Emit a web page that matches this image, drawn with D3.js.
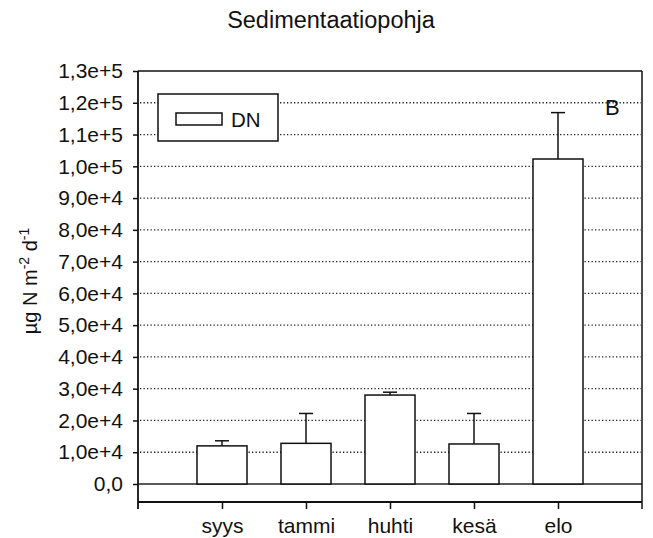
<!DOCTYPE html>
<html>
<head>
<meta charset="utf-8">
<script src="https://cdn.jsdelivr.net/npm/d3@7"></script>
<style>
  html, body { margin: 0; padding: 0; background: #fff; }
  svg { display: block; }
  text { font-family: "Liberation Sans", Arial, sans-serif; fill: #111; }
</style>
</head>
<body>
<svg id="chart" width="653" height="538"></svg>
<script>
// ---- data ----
const categories = ["syys", "tammi", "huhti", "kesä", "elo"];
const values = [12000, 12800, 28000, 12600, 102300];
const errors = [1600, 9400, 900, 9600, 14600];
const yTicks = [0, 10000, 20000, 30000, 40000, 50000, 60000, 70000, 80000, 90000, 100000, 110000, 120000, 130000];
const yTickLabels = ["0,0", "1,0e+4", "2,0e+4", "3,0e+4", "4,0e+4", "5,0e+4", "6,0e+4", "7,0e+4", "8,0e+4", "9,0e+4", "1,0e+5", "1,1e+5", "1,2e+5", "1,3e+5"];
const gridValues = [10000, 20000, 30000, 40000, 50000, 60000, 70000, 80000, 90000, 100000, 110000, 120000];
const seriesName = "DN";
const chartTitle = "Sedimentaatiopohja";
const panelLetter = "B";

// ---- layout ----
const pLeft = 138, pRight = 642, pTop = 71, zeroY = 484, boxBottom = 502, axisBottom = 509;
const svg = d3.select("#chart");

const x = d3.scaleLinear().domain([0, categories.length + 1]).range([pLeft, pRight]);
const y = d3.scaleLinear().domain([0, 130000]).range([zeroY, pTop]);
const barW = 50;

// title
svg.append("text").attr("x", 331).attr("y", 28).attr("text-anchor", "middle")
  .style("font-size", "23.5px").text(chartTitle);

// gridlines (dotted)
svg.append("g").selectAll("line").data(gridValues).join("line")
  .attr("x1", pLeft + 2).attr("x2", pRight - 1)
  .attr("y1", d => y(d)).attr("y2", d => y(d))
  .attr("stroke", "#222").attr("stroke-width", 1.3).attr("stroke-dasharray", "1.3,2.2");

// zero line
svg.append("line").attr("x1", pLeft).attr("x2", pRight).attr("y1", y(0)).attr("y2", y(0))
  .attr("stroke", "#222").attr("stroke-width", 1.3);

// error bars
const eb = svg.append("g").attr("stroke", "#111").attr("stroke-width", 1.5);
categories.forEach((c, i) => {
  const cx = x(i + 1);
  eb.append("line").attr("x1", cx).attr("x2", cx).attr("y1", y(values[i])).attr("y2", y(values[i] + errors[i]));
  eb.append("line").attr("x1", cx - 7).attr("x2", cx + 7).attr("y1", y(values[i] + errors[i])).attr("y2", y(values[i] + errors[i]));
});

// bars
svg.append("g").selectAll("rect").data(values).join("rect")
  .attr("x", (d, i) => x(i + 1) - barW / 2).attr("width", barW)
  .attr("y", d => y(d)).attr("height", d => y(0) - y(d))
  .attr("fill", "#fff").attr("stroke", "#111").attr("stroke-width", 1.5);

// frame
const frame = svg.append("g").attr("stroke", "#111").attr("fill", "none");
frame.append("line").attr("x1", pLeft).attr("x2", pRight).attr("y1", pTop).attr("y2", pTop).attr("stroke-width", 1.5);
frame.append("line").attr("x1", pRight).attr("x2", pRight).attr("y1", pTop).attr("y2", axisBottom).attr("stroke-width", 1.5);
frame.append("line").attr("x1", pLeft).attr("x2", pRight).attr("y1", boxBottom).attr("y2", boxBottom).attr("stroke-width", 1.8);

// y axis
const yAxis = d3.axisLeft(y).tickValues(yTicks).tickSize(5).tickPadding(10)
  .tickFormat((d, i) => yTickLabels[i]);
const gy = svg.append("g").attr("transform", `translate(${pLeft},0)`).call(yAxis);
gy.select(".domain").remove();
gy.selectAll(".tick line").attr("stroke", "#111").attr("stroke-width", 1.5);
gy.selectAll(".tick text").style("font-size", "21px").style("font-family", "Liberation Sans, Arial, sans-serif").attr("fill", "#111");
svg.append("line").attr("x1", pLeft).attr("x2", pLeft).attr("y1", pTop).attr("y2", axisBottom)
  .attr("stroke", "#111").attr("stroke-width", 1.8);

// x axis (ticks below box)
const xAxis = d3.axisBottom(x).tickValues(categories.map((c, i) => i + 1)).tickSize(7).tickPadding(9)
  .tickFormat((d) => categories[d - 1]);
const gx = svg.append("g").attr("transform", `translate(0,${boxBottom})`).call(xAxis);
gx.select(".domain").remove();
gx.selectAll(".tick line").attr("stroke", "#111").attr("stroke-width", 1.5);
gx.selectAll(".tick text").style("font-size", "21px").style("font-family", "Liberation Sans, Arial, sans-serif").attr("fill", "#111");

// legend
const lg = svg.append("g");
lg.append("rect").attr("x", 158).attr("y", 94).attr("width", 120).attr("height", 47)
  .attr("fill", "#fff").attr("stroke", "#111").attr("stroke-width", 1.5);
lg.append("rect").attr("x", 176).attr("y", 113).attr("width", 46).attr("height", 12)
  .attr("fill", "#fff").attr("stroke", "#111").attr("stroke-width", 1.5);
lg.append("text").attr("x", 231).attr("y", 127).style("font-size", "20.5px").text(seriesName);

// panel letter
svg.append("text").attr("x", 605).attr("y", 115).style("font-size", "22px").text(panelLetter);

// y axis title
const yt = svg.append("text").attr("transform", "translate(37,281) rotate(-90)")
  .attr("text-anchor", "middle").style("font-size", "20px");
yt.append("tspan").text("µg N m");
yt.append("tspan").attr("dy", -8).style("font-size", "14px").text("-2");
yt.append("tspan").attr("dy", 8).text(" d");
yt.append("tspan").attr("dy", -8).style("font-size", "14px").text("-1");
</script>
</body>
</html>
